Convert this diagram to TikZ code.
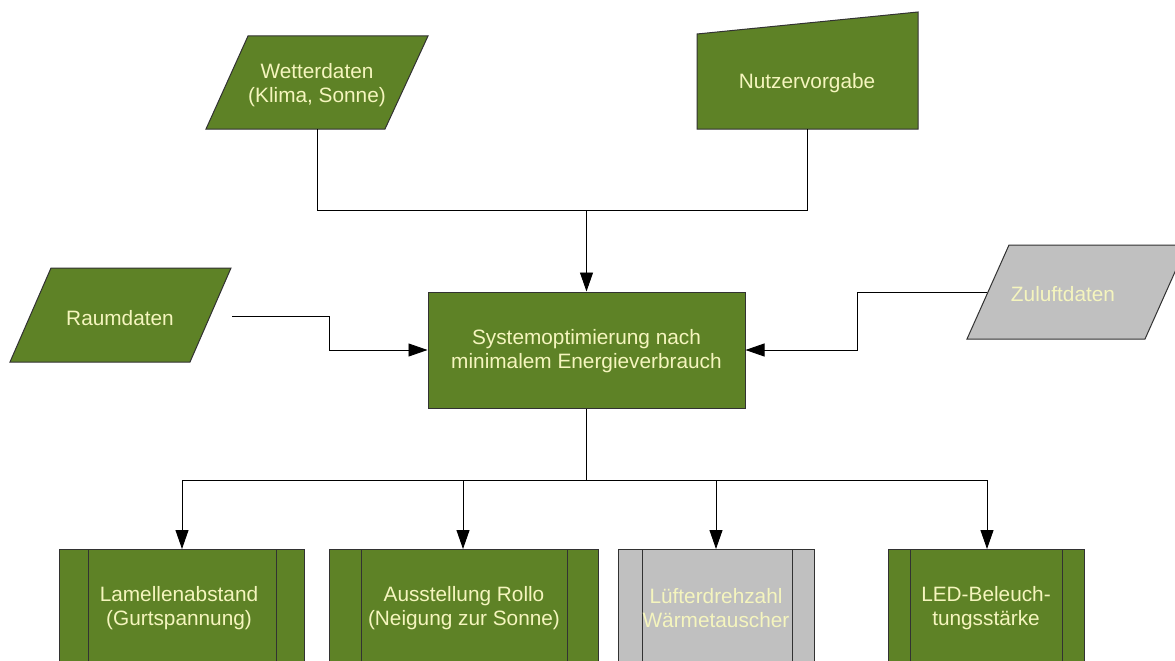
\documentclass[tikz,border=0pt]{standalone}
\usepackage{fontspec}
\setmainfont{Liberation Sans}
\usetikzlibrary{arrows.meta}
\definecolor{fgreen}{RGB}{94,130,38}
\definecolor{fgray}{RGB}{192,192,192}
\definecolor{ftext}{RGB}{245,245,190}
\definecolor{fborder}{RGB}{50,50,50}
\tikzset{
  shapebox/.style={draw=fborder, line width=1pt},
  gshape/.style={shapebox, fill=fgreen},
  yshape/.style={shapebox, fill=fgray},
  lbl/.style={text=ftext, align=center, font=\fontsize{20.8}{23.5}\selectfont, inner sep=0pt},
  conn/.style={draw=black, line width=0.9pt},
  arr/.style={conn, -{Triangle[width=13pt,length=19pt]}},
}
\begin{document}
\begin{tikzpicture}[x=1pt,y=-1pt]
\clip (0,0) rectangle (1175,661);
\fill[white] (0,0) rectangle (1175,661);

% Wetterdaten
\draw[gshape] (248,36) -- (428,36) -- (385,129) -- (206,129) -- cycle;
\node[lbl] (wet) at (317,85) {Wetterdaten\\(Klima, Sonne)};
\coordinate (wetB) at (317,129);

% Nutzervorgabe
\draw[gshape] (697,34) -- (918,12) -- (918,129) -- (697,129) -- cycle;
\node[lbl] (nutz) at (807,83) {Nutzervorgabe};
\coordinate (nutzB) at (807,129);

% Raumdaten
\draw[gshape] (51,268) -- (231,268) -- (190,362) -- (10,362) -- cycle;
\node[lbl] (raum) at (120,318) {Raumdaten};
\coordinate (raumR) at (232,316);

% Zuluftdaten
\draw[yshape] (1009,245) -- (1187,245) -- (1145,339) -- (967,339) -- cycle;
\node[lbl] (zul) at (1063,294) {Zuluftdaten};
\coordinate (zulL) at (987,292);

% Central box
\node[gshape, minimum width=317pt, minimum height=116pt, inner sep=0pt] (sys) at (586.5,350) {};
\node[lbl] (systxt) at (586.5,351) {Systemoptimierung nach\\minimalem Energieverbrauch};

% Bottom subprocess boxes
\foreach \nm/\xa/\xb/\xc/\xd/\sty in {b1/59/88/276/304/gshape, b2/329/361/567/598/gshape, b3/618/642/792/814/yshape, b4/888/910/1062/1084/gshape}{
  \draw[\sty] (\xa,549) rectangle (\xd,680);
  \draw[draw=fborder, line width=1pt] (\xb,549) -- (\xb,680) (\xc,549) -- (\xc,680);
  \coordinate (\nm) at ({(\xa+\xd)/2},549);
}
\node[lbl] (t1) at (179,608) {Lamellenabstand\\(Gurtspannung)};
\node[lbl] (t2) at (464,608) {Ausstellung Rollo\\(Neigung zur Sonne)};
\node[lbl] (t3) at (716,608) {Lüfterdrehzahl\\Wärmetauscher};
\node[lbl] (t4) at (986,608) {LED-Beleuch-\\tungsstärke};

% Connectors top
\coordinate (join) at (586.5,210);
\draw[conn] (wetB) -- (317,210) -- (807,210) -- (nutzB);
\draw[arr] (join) -- (sys.north);
\draw[arr] (raumR) -- (329,316) -- (329,350) -- (sys.west);
\draw[arr] (zulL) -- (857,292) -- (857,350) -- (sys.east);

% Connectors bottom
\draw[conn] (sys.south) -- (586.5,480);
\draw[conn] (182,480) -- (987,480);
\draw[arr] (182,480) -- (182,549);
\draw[arr] (463,480) -- (463,549);
\draw[arr] (716,480) -- (716,549);
\draw[arr] (987,480) -- (987,549);
\end{tikzpicture}
\end{document}
